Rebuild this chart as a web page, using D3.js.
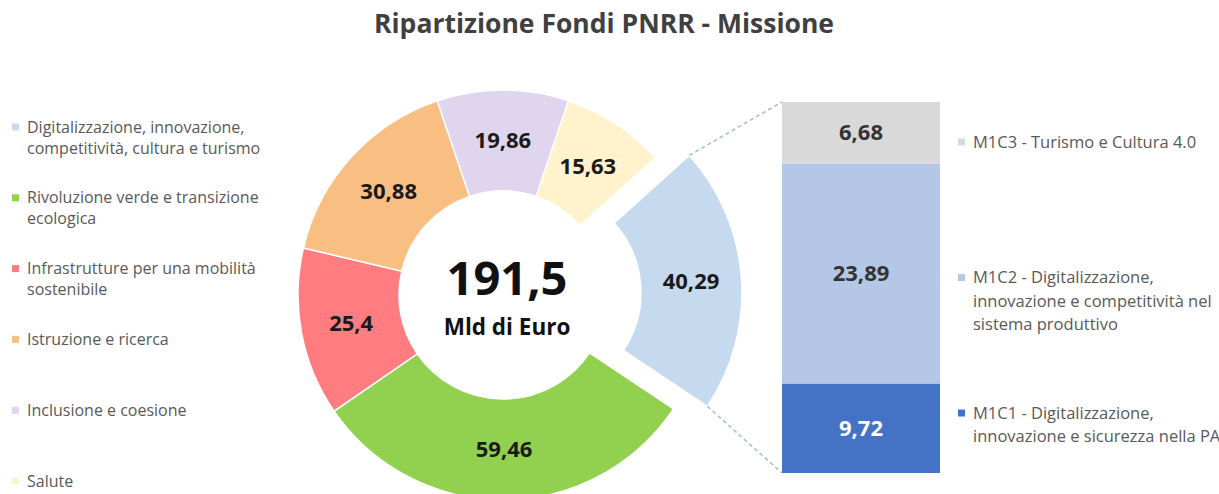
<!DOCTYPE html>
<html>
<head>
    <meta charset="utf-8" />
    <title>Ripartizione Fondi PNRR - Missione</title>
    <style>
        body { margin: 0; background-color: white; }
        text { font-family: "Open Sans", sans-serif; }
        .title { font-size: 26.5px; font-weight: bold; fill: #404040; }
        .slice-label { font-size: 22px; font-weight: bold; fill: #1a1a1a; }
        .bar-label { font-size: 22px; font-weight: bold; }
        .legend-left { font-size: 16px; fill: #595959; }
        .legend-right { font-size: 16.5px; fill: #595959; }
    </style>
    <script src="https://cdnjs.cloudflare.com/ajax/libs/d3/7.8.5/d3.min.js"></script>
</head>
<body>
    <script>
        // Missions (donut)
        var missions = [
            "Digitalizzazione, innovazione,\ncompetitività, cultura e turismo",
            "Rivoluzione verde e transizione\necologica",
            "Infrastrutture per una mobilità\nsostenibile",
            "Istruzione e ricerca",
            "Inclusione e coesione",
            "Salute"
        ];
        var missionValues = [40.29, 59.46, 25.4, 30.88, 19.86, 15.63];
        var missionColors = ["#c5d9ef", "#92d050", "#ff7c80", "#f9bf82", "#e0d5ee", "#fff2cc"];

        // Components of mission 1 (stacked bar), bottom to top
        var components = [
            "M1C1 - Digitalizzazione,\ninnovazione e sicurezza nella PA",
            "M1C2 - Digitalizzazione,\ninnovazione e competitività nel\nsistema produttivo",
            "M1C3 - Turismo e Cultura 4.0"
        ];
        var componentValues = [9.72, 23.89, 6.68];
        var componentColors = ["#4472c4", "#b4c7e7", "#d9d9d9"];
        var componentTextColors = ["#ffffff", "#333333", "#333333"];

        var totalLabel = "191,5";
        var totalUnit = "Mld di Euro";

        var width = 1219, height = 494;
        var fmt = function(v) { return String(v).replace(".", ","); };

        var svg = d3.select("body").append("svg")
            .attr("width", width)
            .attr("height", height);

        svg.append("text")
            .attr("class", "title")
            .attr("x", 604)
            .attr("y", 33)
            .attr("text-anchor", "middle")
            .text("Ripartizione Fondi PNRR - Missione");

        // ---- donut ----
        var cx = 503, cy = 295, rIn = 104, rOut = 205, explode = 34;
        var start = 48 * Math.PI / 180;

        var pie = d3.pie().sort(null)
            .startAngle(start)
            .endAngle(start + 2 * Math.PI);
        var arc = d3.arc().innerRadius(rIn).outerRadius(rOut);
        var arcs = pie(missionValues);

        function offset(d, i) {
            if (i !== 0) return [0, 0];
            var a = (d.startAngle + d.endAngle) / 2;
            return [explode * Math.sin(a), -explode * Math.cos(a)];
        }

        var donut = svg.append("g").attr("transform", "translate(" + cx + "," + cy + ")");

        var slice = donut.selectAll("g.slice")
            .data(arcs)
            .enter().append("g")
            .attr("class", "slice")
            .attr("transform", function(d, i) { return "translate(" + offset(d, i) + ")"; });

        slice.append("path")
            .attr("d", arc)
            .attr("fill", function(d, i) { return missionColors[i]; })
            .attr("stroke", "white")
            .attr("stroke-width", 1.5);

        slice.append("text")
            .attr("class", "slice-label")
            .attr("transform", function(d) { return "translate(" + arc.centroid(d) + ")"; })
            .attr("text-anchor", "middle")
            .attr("dy", "0.35em")
            .text(function(d) { return fmt(d.data); });

        donut.append("text")
            .attr("text-anchor", "middle")
            .attr("x", 4)
            .attr("y", 0)
            .style("font-size", "47px")
            .style("font-weight", "bold")
            .style("fill", "#111")
            .text(totalLabel);
        donut.append("text")
            .attr("text-anchor", "middle")
            .attr("x", 4)
            .attr("y", 40)
            .style("font-size", "22.5px")
            .style("font-weight", "bold")
            .style("fill", "#111")
            .text(totalUnit);

        // ---- stacked bar ----
        var barX = 782, barW = 158;
        var y = d3.scaleLinear()
            .domain([0, d3.sum(componentValues)])
            .range([473, 102]);

        var cum = 0;
        var stackData = componentValues.map(function(v, i) {
            var d = { i: i, v: v, y0: cum, y1: cum + v };
            cum += v;
            return d;
        });

        // connector lines from exploded slice to the bar
        var s0 = arcs[0];
        var off = offset(s0, 0);
        function corner(a) {
            return [cx + off[0] + rOut * Math.sin(a), cy + off[1] - rOut * Math.cos(a)];
        }
        var cTop = corner(s0.startAngle), cBot = corner(s0.endAngle);
        svg.selectAll("line.connector")
            .data([[cTop, [barX, y(cum)]], [cBot, [barX, y(0)]]])
            .enter().append("line")
            .attr("class", "connector")
            .attr("x1", function(d) { return d[0][0]; })
            .attr("y1", function(d) { return d[0][1]; })
            .attr("x2", function(d) { return d[1][0]; })
            .attr("y2", function(d) { return d[1][1]; })
            .attr("stroke", "#a3bcd8")
            .attr("stroke-width", 1.5)
            .attr("stroke-dasharray", "4,3");

        svg.selectAll("rect.seg")
            .data(stackData)
            .enter().append("rect")
            .attr("class", "seg")
            .attr("x", barX)
            .attr("width", barW)
            .attr("y", function(d) { return y(d.y1); })
            .attr("height", function(d) { return y(d.y0) - y(d.y1); })
            .attr("fill", function(d) { return componentColors[d.i]; });

        svg.selectAll("text.bar-label")
            .data(stackData)
            .enter().append("text")
            .attr("class", "bar-label")
            .attr("x", barX + barW / 2)
            .attr("y", function(d) { return y((d.y0 + d.y1) / 2); })
            .attr("dy", "0.35em")
            .attr("text-anchor", "middle")
            .style("fill", function(d) { return componentTextColors[d.i]; })
            .text(function(d) { return fmt(d.v); });

        // ---- legends ----
        function legend(items, colors, opts) {
            var g = svg.append("g");
            var item = g.selectAll("g")
                .data(items)
                .enter().append("g")
                .attr("transform", function(d, i) { return "translate(" + opts.x + "," + opts.y(i) + ")"; });
            item.append("rect")
                .attr("x", 0).attr("y", -3.5)
                .attr("width", 7).attr("height", 7)
                .attr("fill", function(d, i) { return colors[i]; });
            item.append("text")
                .attr("class", opts.cls)
                .attr("x", 15)
                .selectAll("tspan")
                .data(function(d) { return d.split("\n"); })
                .enter().append("tspan")
                .attr("x", 15)
                .attr("y", function(d, j) { return j * opts.lh; })
                .attr("dy", "0.35em")
                .text(function(d) { return d; });
        }

        legend(missions, missionColors, {
            x: 12, lh: 21, cls: "legend-left",
            y: function(i) { return 127 + i * 70.8; }
        });

        var compOrder = [2, 1, 0];
        legend(compOrder.map(function(i) { return components[i]; }),
               compOrder.map(function(i) { return componentColors[i]; }), {
            x: 958, lh: 23.5, cls: "legend-right",
            y: function(i) { return 142 + i * 135.5; }
        });
    </script>
</body>
</html>
